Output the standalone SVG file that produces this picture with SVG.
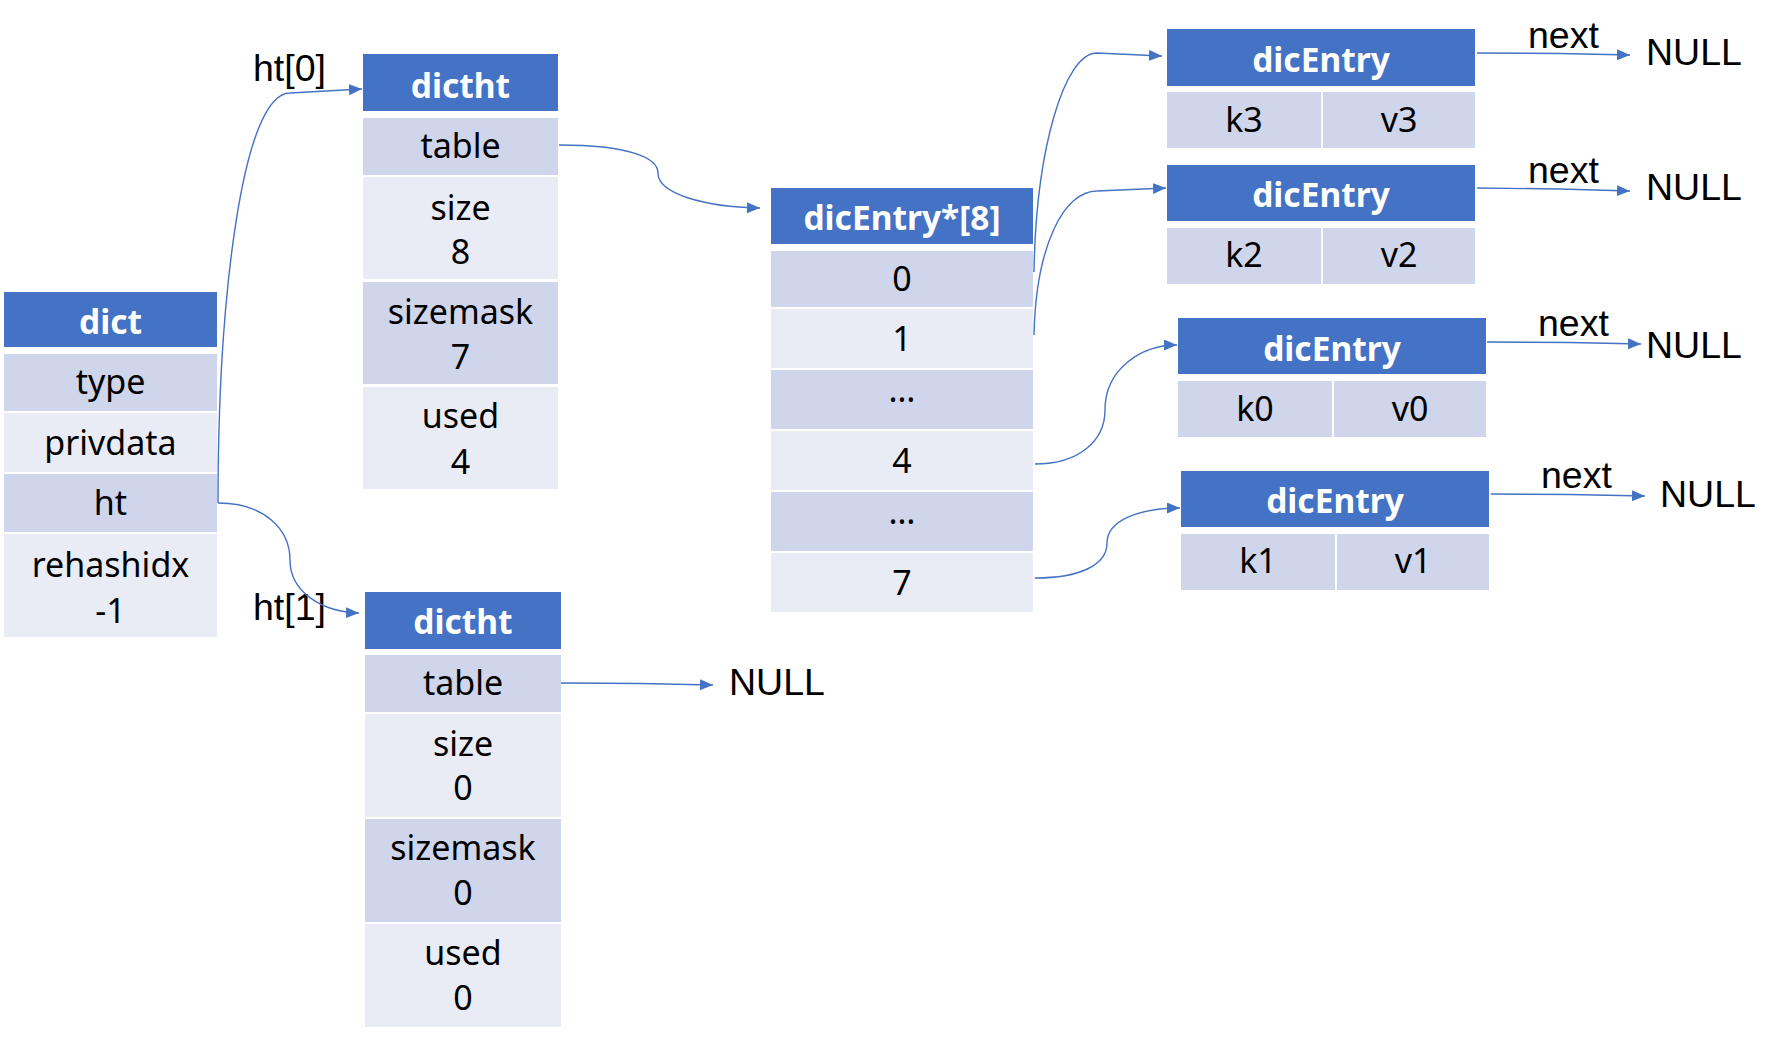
<svg xmlns="http://www.w3.org/2000/svg" width="1777" height="1043" viewBox="0 0 1777 1043">
<defs>
<marker id="arr" markerUnits="userSpaceOnUse" markerWidth="14" markerHeight="12" refX="13" refY="5.5" orient="auto">
<path d="M0,0 L13,5.5 L0,11 z" fill="#4472C4"/>
</marker>
<style>
.hd{fill:#4472C4}
.dk{fill:#CFD5EA}
.lt{fill:#E9EBF5}
.ht{font-family:"Noto Sans","Open Sans","DejaVu Sans",sans-serif;font-weight:bold;font-size:33.5px;fill:#FFFFFF;text-anchor:middle}
.tx{font-family:"Noto Sans","Open Sans","DejaVu Sans",sans-serif;font-size:34px;fill:#000000;text-anchor:middle}
.lb{font-family:"Liberation Sans",Arial,sans-serif;font-size:37.5px;fill:#000000}
.cn{fill:none;stroke:#4472C4;stroke-width:1.4}
</style>
</defs>
<rect width="1777" height="1043" fill="#FFFFFF"/>

<g id="dict">
<rect class="hd" x="4" y="292" width="213" height="55"/>
<rect class="dk" x="4" y="354" width="213" height="57"/>
<rect class="lt" x="4" y="413" width="213" height="59"/>
<rect class="dk" x="4" y="474" width="213" height="58"/>
<rect class="lt" x="4" y="534" width="213" height="103"/>
<text class="ht" x="110.5" y="334">dict</text>
<text class="tx" x="110.5" y="394">type</text>
<text class="tx" x="110.5" y="455">privdata</text>
<text class="tx" x="110.5" y="515">ht</text>
<text class="tx" x="110.5" y="577">rehashidx</text>
<text class="tx" x="110.5" y="623">-1</text>
</g>

<g id="dictht0">
<rect class="hd" x="363" y="54" width="195" height="57"/>
<rect class="dk" x="363" y="118" width="195" height="57"/>
<rect class="lt" x="363" y="177" width="195" height="102"/>
<rect class="dk" x="363" y="282" width="195" height="102"/>
<rect class="lt" x="363" y="387" width="195" height="102"/>
<text class="ht" x="460.5" y="98">dictht</text>
<text class="tx" x="460.5" y="158">table</text>
<text class="tx" x="460.5" y="220">size</text>
<text class="tx" x="460.5" y="264">8</text>
<text class="tx" x="460.5" y="324">sizemask</text>
<text class="tx" x="460.5" y="369">7</text>
<text class="tx" x="460.5" y="428">used</text>
<text class="tx" x="460.5" y="474">4</text>
</g>

<g id="dictht1">
<rect class="hd" x="365" y="592" width="196" height="57"/>
<rect class="dk" x="365" y="655" width="196" height="57"/>
<rect class="lt" x="365" y="714" width="196" height="103"/>
<rect class="dk" x="365" y="819" width="196" height="103"/>
<rect class="lt" x="365" y="924" width="196" height="103"/>
<text class="ht" x="463" y="634">dictht</text>
<text class="tx" x="463" y="695">table</text>
<text class="tx" x="463" y="756">size</text>
<text class="tx" x="463" y="800">0</text>
<text class="tx" x="463" y="860">sizemask</text>
<text class="tx" x="463" y="905">0</text>
<text class="tx" x="463" y="965">used</text>
<text class="tx" x="463" y="1010">0</text>
</g>

<g id="table-array">
<rect class="hd" x="771" y="188" width="262" height="56"/>
<rect class="dk" x="771" y="251" width="262" height="56"/>
<rect class="lt" x="771" y="309" width="262" height="59"/>
<rect class="dk" x="771" y="370" width="262" height="59"/>
<rect class="lt" x="771" y="431" width="262" height="59"/>
<rect class="dk" x="771" y="492" width="262" height="59"/>
<rect class="lt" x="771" y="553" width="262" height="59"/>
<text class="ht" x="902" y="230">dicEntry*[8]</text>
<text class="tx" x="902" y="291">0</text>
<text class="tx" x="902" y="351">1</text>
<text class="tx" x="902" y="402">…</text>
<text class="tx" x="902" y="473">4</text>
<text class="tx" x="902" y="524">…</text>
<text class="tx" x="902" y="595">7</text>
</g>

<g id="entry-k3">
<rect class="hd" x="1167" y="29" width="308" height="57"/>
<rect class="dk" x="1167" y="92" width="154" height="56"/>
<rect class="dk" x="1323" y="92" width="152" height="56"/>
<text class="ht" x="1321" y="72">dicEntry</text>
<text class="tx" x="1244" y="132">k3</text>
<text class="tx" x="1399" y="132">v3</text>
</g>

<g id="entry-k2">
<rect class="hd" x="1167" y="165" width="308" height="56"/>
<rect class="dk" x="1167" y="228" width="154" height="56"/>
<rect class="dk" x="1323" y="228" width="152" height="56"/>
<text class="ht" x="1321" y="207">dicEntry</text>
<text class="tx" x="1244" y="267">k2</text>
<text class="tx" x="1399" y="267">v2</text>
</g>

<g id="entry-k0">
<rect class="hd" x="1178" y="318" width="308" height="56"/>
<rect class="dk" x="1178" y="381" width="154" height="56"/>
<rect class="dk" x="1334" y="381" width="152" height="56"/>
<text class="ht" x="1332" y="361">dicEntry</text>
<text class="tx" x="1255" y="421">k0</text>
<text class="tx" x="1410" y="421">v0</text>
</g>

<g id="entry-k1">
<rect class="hd" x="1181" y="471" width="308" height="56"/>
<rect class="dk" x="1181" y="534" width="154" height="56"/>
<rect class="dk" x="1337" y="534" width="152" height="56"/>
<text class="ht" x="1335" y="513">dicEntry</text>
<text class="tx" x="1258" y="573">k1</text>
<text class="tx" x="1413" y="573">v1</text>
</g>

<g id="labels">
<text class="lb" x="253" y="81">ht[0]</text>
<text class="lb" x="253" y="620">ht[1]</text>
<text class="lb" x="729" y="695">NULL</text>
<text class="lb" x="1528" y="48">next</text>
<text class="lb" x="1646" y="65">NULL</text>
<text class="lb" x="1528" y="183">next</text>
<text class="lb" x="1646" y="200">NULL</text>
<text class="lb" x="1538" y="336">next</text>
<text class="lb" x="1646" y="358">NULL</text>
<text class="lb" x="1541" y="488">next</text>
<text class="lb" x="1660" y="507">NULL</text>
</g>

<g id="connectors">
<path class="cn" marker-end="url(#arr)" d="M218,503 C218,300 242,93 290,93 L362,89"/>
<path class="cn" marker-end="url(#arr)" d="M218,503 C265,503 290,530 290,560 C290,592 322,612 359,613"/>
<path class="cn" marker-end="url(#arr)" d="M559,145 C630,145 658,158 658,173 C658,194 705,207 760,208"/>
<path class="cn" marker-end="url(#arr)" d="M561,683 L640,683.5 L713,685"/>
<path class="cn" marker-end="url(#arr)" d="M1034,272 C1036,150 1064,53 1097,53 L1162,56"/>
<path class="cn" marker-end="url(#arr)" d="M1034,335 C1036,245 1064,191 1097,191 L1166,188"/>
<path class="cn" marker-end="url(#arr)" d="M1035,464 C1080,464 1105,440 1105,410 C1105,370 1140,345 1177,345"/>
<path class="cn" marker-end="url(#arr)" d="M1035,578 C1080,578 1107,565 1107,543 C1107,520 1140,508 1180,508"/>
<path class="cn" marker-end="url(#arr)" d="M1477,53 L1560,53.5 L1630,55"/>
<path class="cn" marker-end="url(#arr)" d="M1477,188 L1560,189 L1630,191"/>
<path class="cn" marker-end="url(#arr)" d="M1487,342 L1570,342.5 L1641,344"/>
<path class="cn" marker-end="url(#arr)" d="M1491,494 L1570,494.5 L1645,496"/>
</g>
</svg>
